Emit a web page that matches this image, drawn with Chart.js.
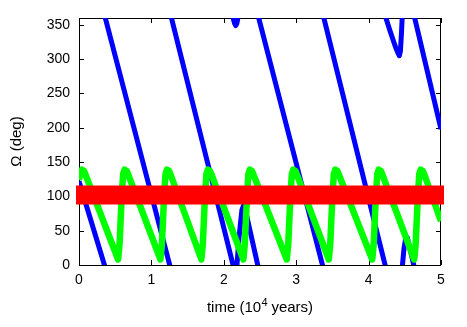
<!DOCTYPE html>
<html>
<head>
<meta charset="utf-8">
<script src="https://cdn.jsdelivr.net/npm/chart.js@4.4.1/dist/chart.umd.min.js"></script>
<style>
  html, body { margin: 0; padding: 0; background: #fff; }
  #wrap { width: 467px; height: 327px; }
</style>
</head>
<body>
<div id="wrap"><canvas id="grafico1" width="467" height="327"></canvas></div>
<script>
//------------------------------------------------------------------------------------
// datos (tiempo en 10^4 años, Omega en grados)
//------------------------------------------------------------------------------------
var xTicks = [0, 1, 2, 3, 4, 5];
var yTicks = [0, 50, 100, 150, 200, 250, 300, 350];

// banda roja (casi constante)
var redT     = [0, 5];
var redOmega = [102, 102];

// verde: diente de sierra entre ~8 y ~139
var greenT = [0, 0.02, 0.04, 0.07, 0.10,
  0.54, 0.56, 0.59, 0.61, 0.63, 0.66, 0.69,
  1.125, 1.145, 1.175, 1.195, 1.215, 1.245, 1.275,
  1.69, 1.71, 1.74, 1.76, 1.78, 1.81, 1.84,
  2.27, 2.29, 2.32, 2.34, 2.36, 2.39, 2.42,
  2.87, 2.89, 2.92, 2.94, 2.96, 2.99, 3.02,
  3.45, 3.47, 3.50, 3.52, 3.54, 3.57, 3.60,
  4.05, 4.07, 4.10, 4.12, 4.14, 4.17, 4.20,
  4.63, 4.65, 4.68, 4.70, 4.72, 4.75, 4.78,
  5.0];
var greenOmega = [124, 135, 139, 137, 129,
  8, 30, 100, 133, 139, 137, 129,
  8, 30, 100, 133, 139, 137, 129,
  8, 30, 100, 133, 139, 137, 129,
  8, 30, 100, 133, 139, 137, 129,
  8, 30, 100, 133, 139, 137, 129,
  8, 30, 100, 133, 139, 137, 129,
  8, 30, 100, 133, 139, 137, 129,
  8, 30, 100, 133, 139, 137, 129,
  64];

// azul: circula, con saltos 0 -> 360 (null = corte de linea)
var blueT = [0, 0.36, 0.36,
  0.356, 1.26, 1.26,
  1.27, 2.135, 2.135,
  2.12, 2.15, 2.165, 2.18, 2.20, 2.20,
  2.18, 2.21, 2.25, 2.27, 2.29, 2.475, 2.475,
  2.475, 3.37, 3.37,
  3.375, 4.235, 4.235,
  4.23, 4.30, 4.37, 4.41, 4.425, 4.44, 4.455, 4.465, 4.465,
  4.465, 4.49, 4.515, 4.535, 4.63, 4.63,
  4.63, 5.0];
var blueOmega = [122, -3, null,
  363, -3, null,
  363, -3, null,
  363, 352, 349, 352, 363, null,
  -3, 40, 80, 86, 84, -3, null,
  363, -3, null,
  363, -3, null,
  363, 340, 318, 308, 305, 312, 340, 363, null,
  -3, 25, 40, 40, -3, null,
  363, 198];

var puntos = function(ts, vals){
  var out = [];
  for (var i = 0; i < ts.length; i++) out.push({x: ts[i], y: vals[i]});
  return out;
};

//------------------------------------------------------------------------------------
// marco estilo gnuplot con ticks hacia adentro + titulo x con superindice
//------------------------------------------------------------------------------------
var marco = {
  id: 'marco',
  beforeDatasetsDraw: function(chart){
    var ctx = chart.ctx, a = chart.chartArea;
    var sx = chart.scales.x, sy = chart.scales.y;
    ctx.save();
    ctx.strokeStyle = '#000';
    ctx.lineWidth = 1;
    ctx.beginPath();
    xTicks.forEach(function(v){
      var px = Math.round(sx.getPixelForValue(v)) + 0.5;
      ctx.moveTo(px, a.bottom); ctx.lineTo(px, a.bottom - 5);
      ctx.moveTo(px, a.top); ctx.lineTo(px, a.top + 5);
    });
    yTicks.forEach(function(v){
      var py = Math.round(sy.getPixelForValue(v)) + 0.5;
      ctx.moveTo(a.left, py); ctx.lineTo(a.left + 5, py);
      ctx.moveTo(a.right, py); ctx.lineTo(a.right - 5, py);
    });
    ctx.stroke();
    ctx.strokeRect(a.left + 0.5, a.top + 0.5, a.right - a.left - 1, a.bottom - a.top);
    ctx.restore();
  },
  afterDraw: function(chart){
    var ctx = chart.ctx, a = chart.chartArea;
    var p1 = 'time (10', p2 = '4', p3 = ' years)';
    var big = '15px "Liberation Sans"', small = '11px "Liberation Sans"';
    ctx.save();
    ctx.fillStyle = '#000';
    ctx.textBaseline = 'alphabetic';
    ctx.textAlign = 'left';
    ctx.font = big;
    var w1 = ctx.measureText(p1).width, w3 = ctx.measureText(p3).width;
    ctx.font = small;
    var w2 = ctx.measureText(p2).width;
    var x0 = (a.left + a.right) / 2 - (w1 + w2 + w3) / 2;
    var base = 311.5;
    ctx.font = big;
    ctx.fillText(p1, x0, base);
    ctx.font = small;
    ctx.fillText(p2, x0 + w1 + 0.5, base - 6);
    ctx.font = big;
    ctx.fillText(p3, x0 + w1 + w2, base);
    ctx.restore();
  }
};

var ctx = document.getElementById('grafico1').getContext('2d');
var myChart = new Chart(ctx, {
  type: 'line',
  data: {
    datasets: [{
      label: 'rojo',
      data: puntos(redT, redOmega),
      borderColor: '#ff0000',
      borderWidth: 19,
      borderCapStyle: 'square',
      clip: {left: 3, right: 3, top: 0, bottom: 0}
    }, {
      label: 'verde',
      data: puntos(greenT, greenOmega),
      borderColor: '#00ff00',
      borderWidth: 6.5
    }, {
      label: 'azul',
      data: puntos(blueT, blueOmega),
      borderColor: '#0000ff',
      borderWidth: 5
    }]
  },
  options: {
    responsive: false,
    animation: false,
    spanGaps: false,
    elements: {
      point: { radius: 0 },
      line: { tension: 0, borderJoinStyle: 'round' }
    },
    layout: { padding: { left: 0, right: 26, top: 18, bottom: 0 } },
    plugins: {
      legend: { display: false },
      tooltip: { enabled: false }
    },
    scales: {
      x: {
        type: 'linear',
        min: 0,
        max: 5,
        afterFit: function(s){ s.height = 62; },
        afterBuildTicks: function(s){ s.ticks = xTicks.map(function(v){ return {value: v}; }); },
        grid: { display: false, drawTicks: false },
        border: { display: false },
        ticks: { color: '#000', padding: 7, maxRotation: 0, font: { family: 'Liberation Sans', size: 14 } },
        title: { display: false }
      },
      y: {
        type: 'linear',
        min: 0,
        max: 360,
        afterFit: function(s){ s.width = 79; },
        afterBuildTicks: function(s){ s.ticks = yTicks.map(function(v){ return {value: v}; }); },
        grid: { display: false, drawTicks: false },
        border: { display: false },
        ticks: { color: '#000', padding: 9, font: { family: 'Liberation Sans', size: 14 } },
        title: {
          display: true,
          text: '\u03A9 (deg)',
          color: '#000',
          padding: { top: 8, bottom: 0 },
          font: { family: 'Liberation Sans', size: 15 }
        }
      }
    }
  },
  plugins: [marco]
});
</script>
</body>
</html>
